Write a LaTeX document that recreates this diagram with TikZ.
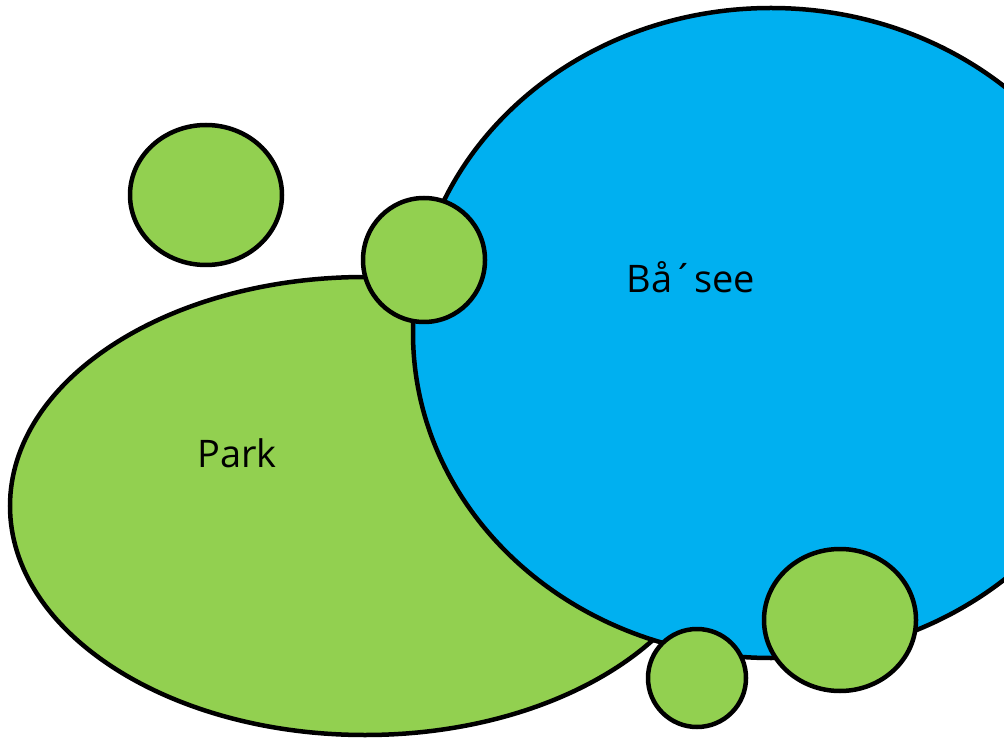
\documentclass[tikz,border=0pt]{standalone}
\usepackage{fontspec}
\setmainfont{Open Sans}
\usepackage{xcolor}
\definecolor{wiese}{HTML}{92D050}
\definecolor{wasser}{HTML}{00B0F0}

\begin{document}
\begin{tikzpicture}[x=0.025cm,y=-0.025cm,
    flaeche/.style={draw=black,line width=3.2pt},
    beschrift/.style={anchor=base,font=\fontsize{27}{32}\selectfont}]
  \useasboundingbox (0,0) rectangle (1004,740);
  \clip (0,0) rectangle (1004,740);
  \fill[white] (0,0) rectangle (1004,740);
  % Park liegt unter dem See, die Inseln obenauf
  \draw[flaeche,fill=wiese] (365,506) ellipse [x radius=355,y radius=229];
  \draw[flaeche,fill=wasser] (771,333) ellipse [x radius=358,y radius=325];
  \foreach \x/\y/\rx/\ry in {206/195/76/70,424/260/61/62,840/620/76/71,697/678/49/49}
    \draw[flaeche,fill=wiese] (\x,\y) ellipse [x radius=\rx,y radius=\ry];

  \node[beschrift] (park) at (237,467) {Park};
  \node[beschrift] (see) at (691,293) {Bå´see};
\end{tikzpicture}
\end{document}
